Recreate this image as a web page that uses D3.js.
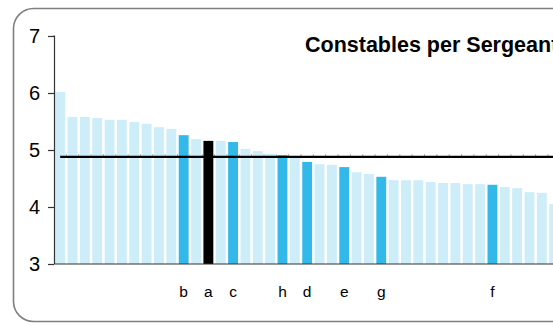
<!DOCTYPE html>
<html>
<head>
<meta charset="utf-8">
<script src="https://cdn.jsdelivr.net/npm/d3@7"></script>
<style>
  body { margin: 0; background: #fff; }
  svg { display: block; font-family: "Liberation Sans", Arial, sans-serif; }
</style>
</head>
<body>
<div id="chart"></div>
<script>
// Constables per sergeant, one bar per force, sorted high to low
const values = [6.02, 5.58, 5.58, 5.56, 5.53, 5.53, 5.49, 5.46, 5.40, 5.37,
  5.26, 5.19, 5.16, 5.16, 5.14, 5.02, 4.98, 4.93, 4.91, 4.86,
  4.79, 4.75, 4.74, 4.70, 4.61, 4.58, 4.53, 4.47, 4.47, 4.47,
  4.44, 4.42, 4.42, 4.40, 4.40, 4.39, 4.35, 4.33, 4.26, 4.25, 4.05];
const labels = ["", "", "", "", "", "", "", "", "", "",
  "b", "", "a", "", "c", "", "", "", "h", "",
  "d", "", "", "e", "", "", "g", "", "", "",
  "", "", "", "", "", "f", "", "", "", "", ""];
const focus = "a";
const average = 4.88;
const yTicks = [3, 4, 5, 6, 7];
const title = "Constables per Sergeant";

const width = 553, height = 325;
const margin = { top: 36, left: 54, bottom: 61 };
const step = 12.35;

const svg = d3.select("#chart").append("svg")
  .attr("width", width)
  .attr("height", height);

// rounded frame, right edge runs off the picture
svg.append("rect")
  .attr("x", 13.5).attr("y", 8.5)
  .attr("width", 640).attr("height", 313)
  .attr("rx", 20).attr("ry", 20)
  .attr("fill", "none")
  .attr("stroke", "#7f7f7f")
  .attr("stroke-width", 1.6);

const x = d3.scaleBand()
  .domain(d3.range(values.length))
  .range([margin.left, margin.left + step * values.length])
  .paddingInner(0.2)
  .paddingOuter(0.1);

const y = d3.scaleLinear()
  .domain([3, 7])
  .range([height - margin.bottom, margin.top]);

const colour = (d, i) => {
  if (labels[i] === focus) return "#000000";
  if (labels[i]) return "#33b9e9";
  return "#cdedf9";
};

svg.append("g")
  .selectAll("rect")
  .data(values)
  .join("rect")
  .attr("x", (d, i) => x(i))
  .attr("y", d => y(d))
  .attr("width", x.bandwidth())
  .attr("height", d => y(3) - y(d))
  .attr("fill", colour);

// average line with its little tick marks
const lineX0 = x(0) + x.bandwidth() / 2;
svg.append("g")
  .selectAll("line")
  .data(d3.range(1, values.length + 1))
  .join("line")
  .attr("x1", i => x(i - 1) + x.bandwidth() + x.step() * 0.1)
  .attr("x2", i => x(i - 1) + x.bandwidth() + x.step() * 0.1)
  .attr("y1", y(average) - 2.5)
  .attr("y2", y(average))
  .attr("stroke", "#999")
  .attr("stroke-width", 1);

svg.append("line")
  .attr("x1", lineX0)
  .attr("x2", width + 10)
  .attr("y1", y(average))
  .attr("y2", y(average))
  .attr("stroke", "#000")
  .attr("stroke-width", 2.2);

// y axis
const yAxis = svg.append("g")
  .attr("transform", `translate(${margin.left},0)`)
  .call(d3.axisLeft(y).tickValues(yTicks).tickFormat(d3.format("d")).tickSize(6).tickPadding(8));
yAxis.select(".domain").attr("d", `M-0.5,${y(7)}H0.5V${y(3)}`).attr("stroke", "#333").attr("stroke-width", 1.2);
yAxis.selectAll(".tick line").attr("stroke", "#333").attr("stroke-width", 1.2);
yAxis.selectAll(".tick text").attr("font-size", 20).attr("fill", "#000")
  .attr("font-family", "Liberation Sans, Arial, sans-serif");

// x axis with the category letters
const xAxis = svg.append("g")
  .attr("transform", `translate(0,${y(3)})`)
  .call(d3.axisBottom(x).tickSize(0).tickPadding(22).tickFormat(i => labels[i]));
xAxis.select(".domain").attr("d", `M${margin.left},0H${width + 10}`).attr("stroke", "#333").attr("stroke-width", 1.2);
xAxis.selectAll(".tick text").attr("font-size", 15.5).attr("fill", "#000")
  .attr("font-family", "Liberation Sans, Arial, sans-serif");

svg.append("text")
  .attr("x", 305)
  .attr("y", 51.5)
  .attr("font-size", 21.5)
  .attr("font-weight", "bold")
  .text(title);
</script>
</body>
</html>
